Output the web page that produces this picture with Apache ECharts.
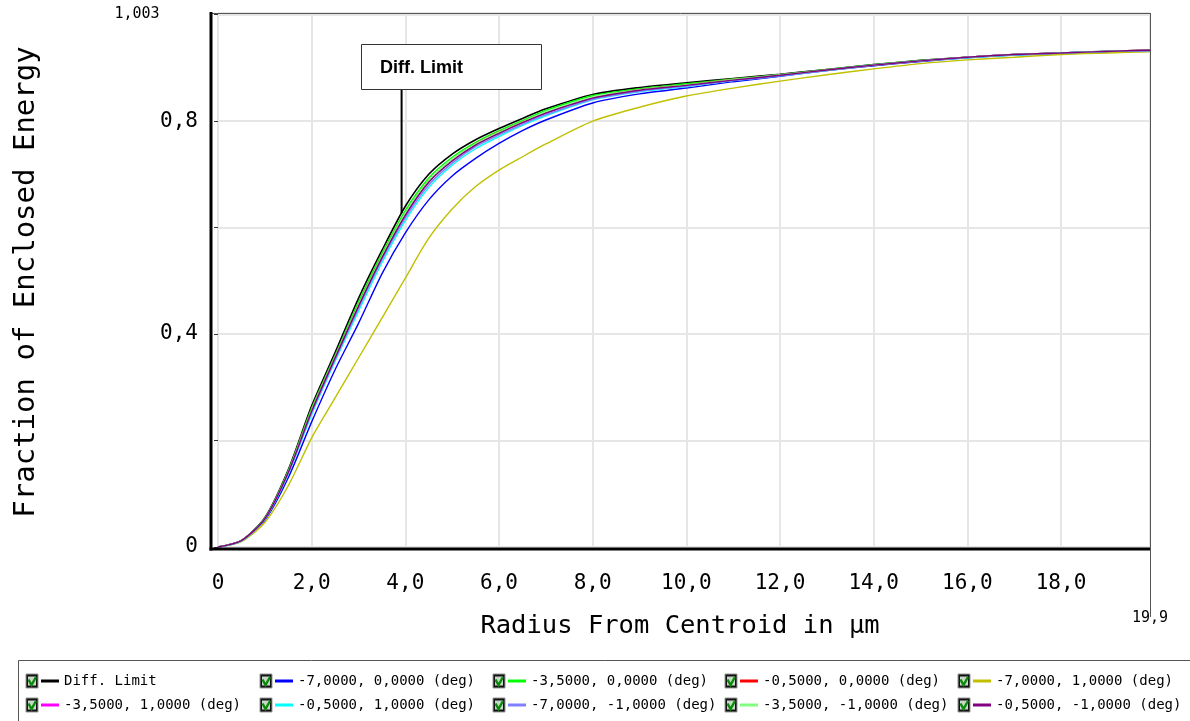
<!DOCTYPE html>
<html>
<head>
<meta charset="utf-8">
<script src="https://cdn.jsdelivr.net/npm/echarts@6/dist/echarts.min.js"></script>
<style>
  html, body { margin: 0; padding: 0; background: #ffffff; }
  #chart { width: 1190px; height: 721px; }
</style>
</head>
<body>
<div id="chart"></div>
<script>
// Radius from centroid (µm) at which each curve is sampled
const radius = [0, 0.5, 1, 1.5, 2, 2.5, 3, 3.5, 4, 4.5, 5, 5.5, 6, 6.5, 7, 8, 9, 10, 11, 12, 13, 14, 15, 16, 17, 18, 19, 19.9];

// Fraction of enclosed energy per field
const diffLimit   = [0, 0.012, 0.055, 0.145, 0.265, 0.365, 0.467, 0.557, 0.640, 0.700, 0.738, 0.765, 0.786, 0.805, 0.823, 0.850, 0.863, 0.872, 0.880, 0.888, 0.897, 0.906, 0.914, 0.920, 0.925, 0.928, 0.931, 0.933];
const fM7_0       = [0, 0.011, 0.050, 0.130, 0.235, 0.333, 0.420, 0.513, 0.590, 0.652, 0.697, 0.730, 0.758, 0.782, 0.802, 0.834, 0.851, 0.862, 0.874, 0.884, 0.895, 0.904, 0.912, 0.919, 0.924, 0.927, 0.930, 0.932];
const fM35_0      = [0, 0.012, 0.054, 0.143, 0.261, 0.360, 0.460, 0.551, 0.632, 0.693, 0.732, 0.760, 0.782, 0.801, 0.820, 0.848, 0.861, 0.870, 0.879, 0.887, 0.897, 0.906, 0.914, 0.920, 0.925, 0.928, 0.931, 0.933];
const fM05_0      = [0, 0.012, 0.053, 0.141, 0.257, 0.357, 0.455, 0.546, 0.626, 0.688, 0.727, 0.757, 0.779, 0.798, 0.816, 0.844, 0.859, 0.868, 0.878, 0.886, 0.896, 0.905, 0.913, 0.920, 0.925, 0.928, 0.931, 0.933];
const fM7_1       = [0, 0.010, 0.046, 0.115, 0.205, 0.280, 0.355, 0.430, 0.505, 0.580, 0.635, 0.677, 0.708, 0.733, 0.757, 0.800, 0.826, 0.847, 0.862, 0.875, 0.887, 0.898, 0.908, 0.915, 0.920, 0.925, 0.928, 0.930];
const fM35_1      = [0, 0.012, 0.053, 0.140, 0.256, 0.356, 0.453, 0.544, 0.624, 0.686, 0.726, 0.756, 0.778, 0.797, 0.815, 0.843, 0.858, 0.867, 0.877, 0.886, 0.896, 0.905, 0.913, 0.920, 0.925, 0.928, 0.931, 0.933];
const fM05_1      = [0, 0.011, 0.052, 0.137, 0.249, 0.349, 0.443, 0.534, 0.613, 0.675, 0.717, 0.748, 0.771, 0.792, 0.810, 0.840, 0.855, 0.865, 0.876, 0.885, 0.895, 0.905, 0.913, 0.919, 0.924, 0.928, 0.931, 0.932];
const fM7_M1      = [0, 0.012, 0.052, 0.139, 0.252, 0.352, 0.448, 0.539, 0.618, 0.680, 0.721, 0.752, 0.774, 0.794, 0.812, 0.841, 0.856, 0.866, 0.876, 0.885, 0.895, 0.905, 0.913, 0.920, 0.925, 0.928, 0.931, 0.932];
const fM35_M1     = [0, 0.012, 0.053, 0.141, 0.257, 0.357, 0.455, 0.546, 0.627, 0.688, 0.728, 0.757, 0.779, 0.798, 0.817, 0.845, 0.859, 0.868, 0.878, 0.887, 0.896, 0.905, 0.913, 0.920, 0.925, 0.928, 0.931, 0.933];
const fM05_M1     = [0, 0.012, 0.053, 0.140, 0.255, 0.355, 0.452, 0.543, 0.623, 0.685, 0.725, 0.755, 0.777, 0.797, 0.815, 0.843, 0.858, 0.867, 0.877, 0.886, 0.896, 0.905, 0.913, 0.920, 0.925, 0.928, 0.931, 0.933];

const seriesNames = [
  'Diff. Limit',
  '-7,0000, 0,0000 (deg)',
  '-3,5000, 0,0000 (deg)',
  '-0,5000, 0,0000 (deg)',
  '-7,0000, 1,0000 (deg)',
  '-3,5000, 1,0000 (deg)',
  '-0,5000, 1,0000 (deg)',
  '-7,0000, -1,0000 (deg)',
  '-3,5000, -1,0000 (deg)',
  '-0,5000, -1,0000 (deg)'
];
const seriesValues = [diffLimit, fM7_0, fM35_0, fM05_0, fM7_1, fM35_1, fM05_1, fM7_M1, fM35_M1, fM05_M1];
const seriesColors = ['#000000', '#0000ff', '#00ff00', '#ff0000', '#c0c000', '#ff00ff', '#00ffff', '#8080ff', '#80ff80', '#800080'];

// Axis texts
const xTitle = 'Radius From Centroid in µm';
const yTitle = 'Fraction of Enclosed Energy';
const xMax = 19.9;
const yMax = 1.003;
const annotationText = 'Diff. Limit';
const annotationAt = [3.92, 0.627];

const mono = 'DejaVu Sans Mono';
const fmt = v => (Math.round(v * 10) === 0 ? '0' : v.toFixed(1).replace('.', ','));

const chart = echarts.init(document.getElementById('chart'), null, { renderer: 'canvas' });

const series = seriesNames.map((name, i) => ({
  name: name,
  type: 'line',
  data: radius.map((r, k) => [r, seriesValues[i][k]]),
  showSymbol: false,
  smooth: 0.25,
  color: seriesColors[i],
  itemStyle: { color: seriesColors[i] },
  lineStyle: { color: seriesColors[i], width: i === 0 ? 1.6 : 1.4 },
  emphasis: { disabled: true },
  animation: false
}));

// Legend: five columns of two rows
const colLeft = [41, 275, 508, 740, 973];
const rowY = [681, 705];
const legends = colLeft.map((left, c) => ({
  orient: 'vertical',
  left: left,
  top: rowY[0] - 7,
  itemGap: 10,
  itemWidth: 18,
  itemHeight: 3,
  icon: 'rect',
  selectedMode: false,
  padding: 0,
  data: [seriesNames[c], seriesNames[c + 5]],
  textStyle: { fontFamily: mono, fontSize: 14, lineHeight: 14, color: '#000' }
}));

// Checkbox glyphs in front of every legend entry
const checkboxes = [];
colLeft.forEach(left => {
  rowY.forEach(y => {
    const x0 = left - 15, y0 = y - 7;
    checkboxes.push({
      type: 'rect', shape: { x: x0, y: y0, width: 12, height: 14 },
      style: { fill: '#111', stroke: '#999', lineWidth: 1 }, silent: true
    });
    checkboxes.push({
      type: 'rect', shape: { x: x0 + 2, y: y0 + 2.5, width: 8, height: 9 },
      style: { fill: '#c8d8c8' }, silent: true
    });
    checkboxes.push({
      type: 'polyline', shape: { points: [[x0 + 2.5, y0 + 5.5], [x0 + 5.5, y0 + 11], [x0 + 10, y0 + 3]] },
      style: { stroke: '#0a8a0a', lineWidth: 2.4, fill: null }, silent: true
    });
  });
});

const frame = [
  // plot frame
  { type: 'line', shape: { x1: 211, y1: 13.5, x2: 1150, y2: 13.5 }, style: { stroke: '#555', lineWidth: 1 }, silent: true, z: 5 },
  { type: 'line', shape: { x1: 1150.5, y1: 13, x2: 1150.5, y2: 617 }, style: { stroke: '#555', lineWidth: 1 }, silent: true, z: 5 },
  { type: 'line', shape: { x1: 211, y1: 12, x2: 211, y2: 550.5 }, style: { stroke: '#000', lineWidth: 3 }, silent: true, z: 5 },
  { type: 'line', shape: { x1: 209.5, y1: 549, x2: 1150, y2: 549 }, style: { stroke: '#000', lineWidth: 3 }, silent: true, z: 5 },
  // axis extent labels
  { type: 'text', x: 137, y: 14, style: { text: '1,003', font: '15px "' + mono + '"', fill: '#000', align: 'center', verticalAlign: 'middle' }, silent: true },
  { type: 'text', x: 1150, y: 618, style: { text: '19,9', font: '15px "' + mono + '"', fill: '#000', align: 'center', verticalAlign: 'middle' }, silent: true },
  // axis titles
  { type: 'text', x: 680, y: 626, style: { text: xTitle, font: '25.5px "' + mono + '"', fill: '#000', align: 'center', verticalAlign: 'middle' }, silent: true },
  { type: 'text', x: 26, y: 282, rotation: Math.PI / 2, style: { text: yTitle, font: '29px "' + mono + '"', fill: '#000', align: 'center', verticalAlign: 'middle' }, silent: true },
  // legend frame
  { type: 'rect', shape: { x: 18.5, y: 660.5, width: 1190, height: 80 }, style: { fill: null, stroke: '#555', lineWidth: 1 }, silent: true }
];

const option = {
  animation: false,
  backgroundColor: '#ffffff',
  color: seriesColors,
  grid: { left: 218, right: 40, top: 13, bottom: 174, containLabel: false },
  xAxis: {
    type: 'value',
    min: 0,
    max: xMax,
    interval: 2,
    offset: 2,
    axisLine: { show: false },
    axisTick: { show: false },
    axisLabel: {
      showMaxLabel: false,
      margin: 24,
      fontFamily: mono,
      fontSize: 21,
      color: '#000',
      formatter: v => (Math.abs(v / 2 - Math.round(v / 2)) < 1e-6 ? fmt(v) : '')
    },
    splitLine: { show: true, lineStyle: { color: '#e6e6e6', width: 2 } }
  },
  yAxis: {
    type: 'value',
    min: 0,
    max: yMax,
    interval: 0.2,
    offset: 7,
    axisLine: { show: false },
    axisTick: { show: true, length: 4, lineStyle: { color: '#333', width: 1 } },
    axisLabel: {
      margin: 13,
      fontFamily: mono,
      fontSize: 21,
      color: '#000',
      formatter: v => {
        const k = Math.round(v * 10);
        if (Math.abs(v * 10 - k) > 1e-6 || k % 4 !== 0) return '';
        return fmt(v);
      }
    },
    splitLine: { show: true, lineStyle: { color: '#e6e6e6', width: 2 } }
  },
  legend: legends,
  series: series,
  graphic: frame.concat(checkboxes)
};

chart.setOption(option);

// Callout box for the diffraction-limit curve
const p = chart.convertToPixel({ gridIndex: 0 }, annotationAt);
const boxLeft = Math.round(p[0]) - 41;
chart.setOption({
  graphic: frame.concat(checkboxes).concat([
    { type: 'line', shape: { x1: p[0], y1: 89, x2: p[0], y2: p[1] }, style: { stroke: '#000', lineWidth: 2 }, silent: true, z: 10 },
    { type: 'rect', shape: { x: boxLeft + 0.5, y: 44.5, width: 180, height: 45 }, style: { fill: '#fff', stroke: '#333', lineWidth: 1 }, silent: true, z: 10 },
    { type: 'text', x: boxLeft + 19, y: 68, style: { text: annotationText, font: 'bold 18px "Liberation Sans", Arial, sans-serif', fill: '#000', align: 'left', verticalAlign: 'middle' }, silent: true, z: 11 }
  ])
});
</script>
</body>
</html>
